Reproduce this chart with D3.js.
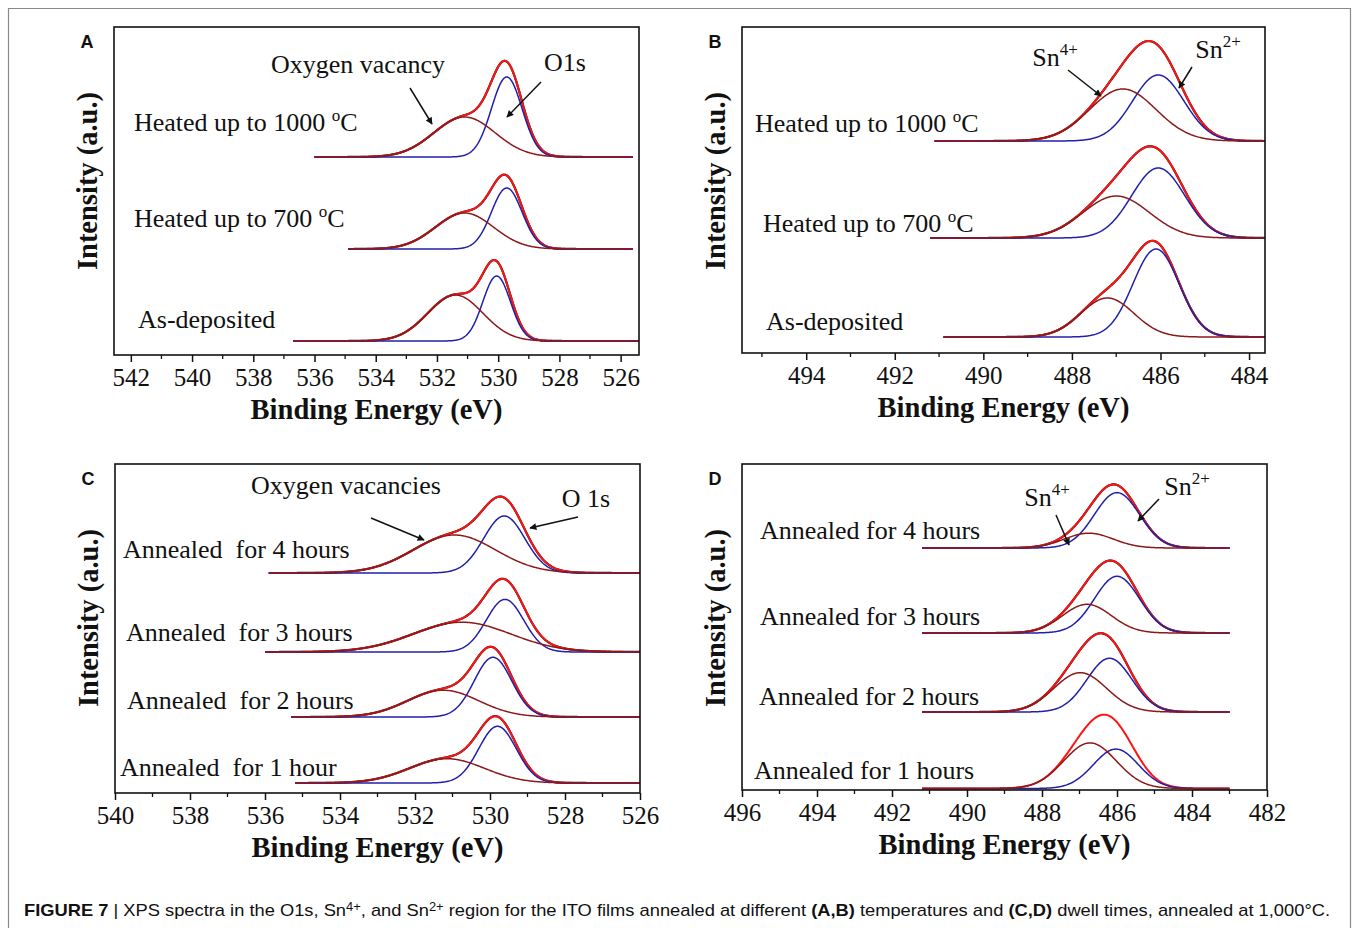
<!DOCTYPE html>
<html><head><meta charset="utf-8">
<script src="https://cdn.jsdelivr.net/npm/d3@7"></script>
<style>
body{margin:0;background:#fff}
svg text{fill:#111}
</style>
</head><body>
<svg id="c" width="1358" height="928"></svg>
<script>
// ---------------- DATA ----------------
// Panel A : O1s, heated
const aLabels      = ["Heated up to 1000 ", "Heated up to 700 ", "As-deposited"];
const aSup         = ["o", "o", ""];
const aTail        = ["C", "C", ""];
const aOffsets     = [198, 106, 14];
const aScanStart   = [536.0, 534.9, 536.7];
const aScanEnd     = [525.6, 525.6, 525.4];
const aMainCenter  = [529.72, 529.72, 530.05];   // O1s (blue)
const aMainHeight  = [80, 61, 65];
const aMainSigma   = [0.5, 0.5, 0.45];
const aSideCenter  = [531.1, 531.1, 531.4];   // oxygen vacancy (brown)
const aSideHeight  = [40, 36, 46];
const aSideSigma   = [1.0, 0.95, 0.9];
const aTicks       = [542, 540, 538, 536, 534, 532, 530, 528, 526];

// Panel B : Sn, heated
const bLabels      = ["Heated up to 1000 ", "Heated up to 700 ", "As-deposited"];
const bSup         = ["o", "o", ""];
const bTail        = ["C", "C", ""];
const bOffsets     = [212, 115, 16];
const bScanStart   = [491.1, 491.2, 490.9];
const bScanEnd     = [483.64, 483.64, 483.64];
const bMainCenter  = [486.05, 486.05, 486.1]; // Sn2+ (blue)
const bMainHeight  = [66, 70, 88];
const bMainSigma   = [0.58, 0.6, 0.52];
const bSideCenter  = [486.85, 487.0, 487.2];  // Sn4+ (brown)
const bSideHeight  = [52, 42, 39];
const bSideSigma   = [0.75, 0.75, 0.6];
const bTicks       = [494, 492, 490, 488, 486, 484];

// Panel C : O1s, dwell time
const cLabels      = ["Annealed  for 4 hours", "Annealed  for 3 hours", "Annealed  for 2 hours", "Annealed  for 1 hour"];
const cOffsets     = [220, 141, 76, 10];
const cScanStart   = [535.9, 536.0, 535.3, 535.2];
const cScanEnd     = [526.0, 526.0, 526.0, 526.0];
const cMainCenter  = [529.62, 529.6, 529.92, 529.8];
const cMainHeight  = [57, 52.6, 59.7, 56.7];
const cMainSigma   = [0.55, 0.5, 0.5, 0.5];
const cSideCenter  = [530.95, 530.75, 531.25, 531.15];
const cSideHeight  = [38, 29.8, 26.8, 24.3];
const cSideSigma   = [1.1, 1.3, 0.95, 1.0];
const cTicks       = [540, 538, 536, 534, 532, 530, 528, 526];

// Panel D : Sn, dwell time
const dLabels      = ["Annealed for 4 hours", "Annealed for 3 hours", "Annealed for 2 hours", "Annealed for 1 hours"];
const dOffsets     = [242, 157, 78, 1.5];
const dScanStart   = [491.2, 491.2, 491.2, 491.2];
const dScanEnd     = [483.0, 483.0, 483.0, 483.0];
const dMainCenter  = [486.0, 486.0, 486.2, 486.03];
const dMainHeight  = [55.4, 56.7, 53.7, 39.4];
const dMainSigma   = [0.6, 0.6, 0.6, 0.6];
const dSideCenter  = [486.75, 486.8, 486.98, 486.72];
const dSideHeight  = [14.8, 28.7, 39.3, 45.6];
const dSideSigma   = [0.65, 0.65, 0.7, 0.7];
const dTicks       = [496, 494, 492, 490, 488, 486, 484, 482];

// ---------------- DRAWING ----------------
const svg = d3.select("#c");
const SERIF = "'Liberation Serif','Times New Roman',serif";
const SANS = "'Liberation Sans',Arial,sans-serif";
const COL = {raw:"#111111", fit:"#ff1414", main:"#2020aa", side:"#8c1a1a"};

const defs = svg.append("defs");
defs.append("marker").attr("id","arr").attr("viewBox","0 0 10 10")
  .attr("refX",9).attr("refY",5).attr("markerWidth",9).attr("markerHeight",7)
  .attr("markerUnits","userSpaceOnUse").attr("orient","auto")
  .append("path").attr("d","M0,0 L10,5 L0,10 z").attr("fill","#111");

// outer figure box
svg.append("path").attr("d","M8.5,928 V8.5 H1350.5 V928")
  .attr("fill","none").attr("stroke","#8a8a8a").attr("stroke-width",1.2);

function gauss(e, c, h, s){ return h*Math.exp(-((e-c)*(e-c))/(2*s*s)); }

function panel(cfg){
  const x = d3.scaleLinear().domain(cfg.xDomain).range([cfg.left, cfg.right]);
  const y = d3.scaleLinear().domain([0, cfg.bottom-cfg.top]).range([cfg.bottom, cfg.top]);
  const g = svg.append("g").style("font-family", SERIF);
  const clipId = "clip"+cfg.id;
  defs.append("clipPath").attr("id",clipId).append("rect")
    .attr("x",cfg.left).attr("y",cfg.top).attr("width",cfg.right-cfg.left).attr("height",cfg.bottom-cfg.top);
  const plot = g.append("g").attr("clip-path",`url(#${clipId})`);

  const n = cfg.offsets.length;
  for(let i=0;i<n;i++){
    const pts = d3.range(cfg.scanStart[i], cfg.scanEnd[i]-0.001, -0.02);
    pts.push(cfg.scanEnd[i]);
    const rows = pts.map(e=>{
      const m = gauss(e,cfg.mainC[i],cfg.mainH[i],cfg.mainS[i]);
      const s = gauss(e,cfg.sideC[i],cfg.sideH[i],cfg.sideS[i]);
      return {e, m, s, t:m+s};
    });
    const off = cfg.offsets[i];
    const line = key => d3.line().x(d=>x(d.e)).y(d=>y(off+d[key]))(rows);
    if(!cfg.noRaw || !cfg.noRaw[i]) plot.append("path").attr("d",line("t")).attr("fill","none").attr("stroke",COL.raw).attr("stroke-width",2.2);
    plot.append("path").attr("d",line("t")).attr("fill","none").attr("stroke",COL.fit).attr("stroke-width",2);
    plot.append("path").attr("d",line("m")).attr("fill","none").attr("stroke",COL.main).attr("stroke-width",1.5);
    plot.append("path").attr("d",line("s")).attr("fill","none").attr("stroke",COL.side).attr("stroke-width",1.5);
  }

  // frame
  g.append("rect").attr("x",cfg.left).attr("y",cfg.top).attr("width",cfg.right-cfg.left).attr("height",cfg.bottom-cfg.top)
    .attr("fill","none").attr("stroke","#111").attr("stroke-width",1.6);

  // axis
  const ax = g.append("g").attr("transform",`translate(0,${cfg.bottom})`)
    .call(d3.axisBottom(x).tickValues(cfg.ticks).tickFormat(d3.format("d")).tickSize(7).tickSizeOuter(0).tickPadding(6));
  ax.select(".domain").remove();
  ax.selectAll(".tick line").attr("stroke","#111").attr("stroke-width",1.5);
  ax.selectAll(".tick text").attr("font-size",25).style("font-family",SERIF).attr("fill","#111");
  const minor = d3.range(Math.ceil(Math.min(...cfg.xDomain)), Math.floor(Math.max(...cfg.xDomain))+1).filter(v=>Math.abs(v%2)===1);
  g.selectAll(null).data(minor).enter().append("line")
    .attr("x1",d=>x(d)).attr("x2",d=>x(d)).attr("y1",cfg.bottom).attr("y2",cfg.bottom+4)
    .attr("stroke","#111").attr("stroke-width",1.3);

  // titles
  g.append("text").attr("x",(cfg.left+cfg.right)/2).attr("y",cfg.bottom+64)
    .attr("text-anchor","middle").attr("font-size",28.5).attr("font-weight","bold").text("Binding Energy (eV)");
  g.append("text").attr("transform",`translate(${cfg.left-17},${cfg.top+154}) rotate(-90)`)
    .attr("text-anchor","middle").attr("font-size",28.5).attr("font-weight","bold").text("Intensity (a.u.)");
  g.append("text").attr("x",cfg.left-27).attr("y",cfg.top+21).attr("text-anchor","middle")
    .style("font-family",SANS).attr("font-weight","bold").attr("font-size",18).text(cfg.id);

  // spectrum labels
  for(let i=0;i<n;i++){
    const t = g.append("text").attr("x",cfg.labelX[i]).attr("y",cfg.labelY[i]+8)
      .attr("font-size",26).attr("xml:space","preserve").style("white-space","pre");
    t.append("tspan").text(cfg.labels[i]);
    if(cfg.sup && cfg.sup[i]){
      t.append("tspan").attr("font-size",17).attr("dy",-10).text(cfg.sup[i]);
      t.append("tspan").attr("dy",10).text(cfg.tail[i]);
    }
  }
  // annotations
  (cfg.notes||[]).forEach(a=>{
    const t = g.append("text").attr("x",a.x).attr("y",a.y+8).attr("text-anchor","middle").attr("font-size",26);
    t.append("tspan").text(a.text);
    if(a.sup) t.append("tspan").attr("font-size",17).attr("dy",-11).text(a.sup);
  });
  (cfg.arrows||[]).forEach(a=>{
    g.append("line").attr("x1",a[0]).attr("y1",a[1]).attr("x2",a[2]).attr("y2",a[3])
      .attr("stroke","#111").attr("stroke-width",1.5).attr("marker-end","url(#arr)");
  });
}

panel({id:"A", left:114, right:639, top:27, bottom:355, xDomain:[542.55,525.4], ticks:aTicks,
  offsets:aOffsets, scanStart:aScanStart, scanEnd:aScanEnd,
  mainC:aMainCenter, mainH:aMainHeight, mainS:aMainSigma, sideC:aSideCenter, sideH:aSideHeight, sideS:aSideSigma,
  labels:aLabels, sup:aSup, tail:aTail, labelX:[134,134,138], labelY:[123,219,320],
  notes:[{text:"Oxygen vacancy",x:358,y:65},{text:"O1s",x:565,y:63}],
  arrows:[[410,88,432,124],[541,82,507,117]]});

panel({id:"B", left:742, right:1265, top:27, bottom:353, xDomain:[495.45,483.64], ticks:bTicks,
  offsets:bOffsets, scanStart:bScanStart, scanEnd:bScanEnd,
  mainC:bMainCenter, mainH:bMainHeight, mainS:bMainSigma, sideC:bSideCenter, sideH:bSideHeight, sideS:bSideSigma,
  labels:bLabels, sup:bSup, tail:bTail, labelX:[755,763,766], labelY:[124,224,322],
  notes:[{text:"Sn",sup:"4+",x:1055,y:58},{text:"Sn",sup:"2+",x:1218,y:50}],
  arrows:[[1068,70,1101,96],[1192,67,1179,88]]});

panel({id:"C", left:115, right:640, top:464, bottom:793, xDomain:[540,526], ticks:cTicks,
  offsets:cOffsets, scanStart:cScanStart, scanEnd:cScanEnd,
  mainC:cMainCenter, mainH:cMainHeight, mainS:cMainSigma, sideC:cSideCenter, sideH:cSideHeight, sideS:cSideSigma,
  labels:cLabels, labelX:[123,126,127,120], labelY:[550,633,701,768],
  notes:[{text:"Oxygen vacancies",x:346,y:486},{text:"O 1s",x:586,y:499}],
  arrows:[[371,518,424,540],[578,517,530,528]]});

panel({id:"D", left:742, right:1267, top:464, bottom:790, xDomain:[496,482], ticks:dTicks,
  offsets:dOffsets, scanStart:dScanStart, scanEnd:dScanEnd,
  mainC:dMainCenter, mainH:dMainHeight, mainS:dMainSigma, sideC:dSideCenter, sideH:dSideHeight, sideS:dSideSigma,
  labels:dLabels, labelX:[760,760,759,754], labelY:[531,617,697,771], noRaw:[false,false,false,true],
  notes:[{text:"Sn",sup:"4+",x:1047,y:498},{text:"Sn",sup:"2+",x:1187,y:487}],
  arrows:[[1056,515,1069,545],[1159,499,1138,521]]});

// caption
const cap = svg.append("text").attr("x",24).attr("y",916)
  .attr("font-size",17).style("font-family","'Liberation Sans Narrow','Arial Narrow','Liberation Sans',Arial,sans-serif")
  .attr("textLength",1306).attr("lengthAdjust","spacingAndGlyphs").attr("xml:space","preserve").style("white-space","pre");
const capParts = [
  {t:"FIGURE 7", b:true}, {t:" | ", b:false}, {t:"XPS spectra in the O1s, Sn"}, {t:"4+", sup:true}, {t:", and Sn"}, {t:"2+", sup:true},
  {t:" region for the ITO films annealed at different "}, {t:"(A,B)", b:true}, {t:" temperatures and "}, {t:"(C,D)", b:true},
  {t:" dwell times, annealed at 1,000°C."}
];
capParts.forEach(p=>{
  const s = cap.append("tspan").text(p.t);
  if(p.b) s.attr("font-weight","bold");
  if(p.sup) s.attr("font-size",12).attr("baseline-shift","45%");
});
</script>
</body></html>
